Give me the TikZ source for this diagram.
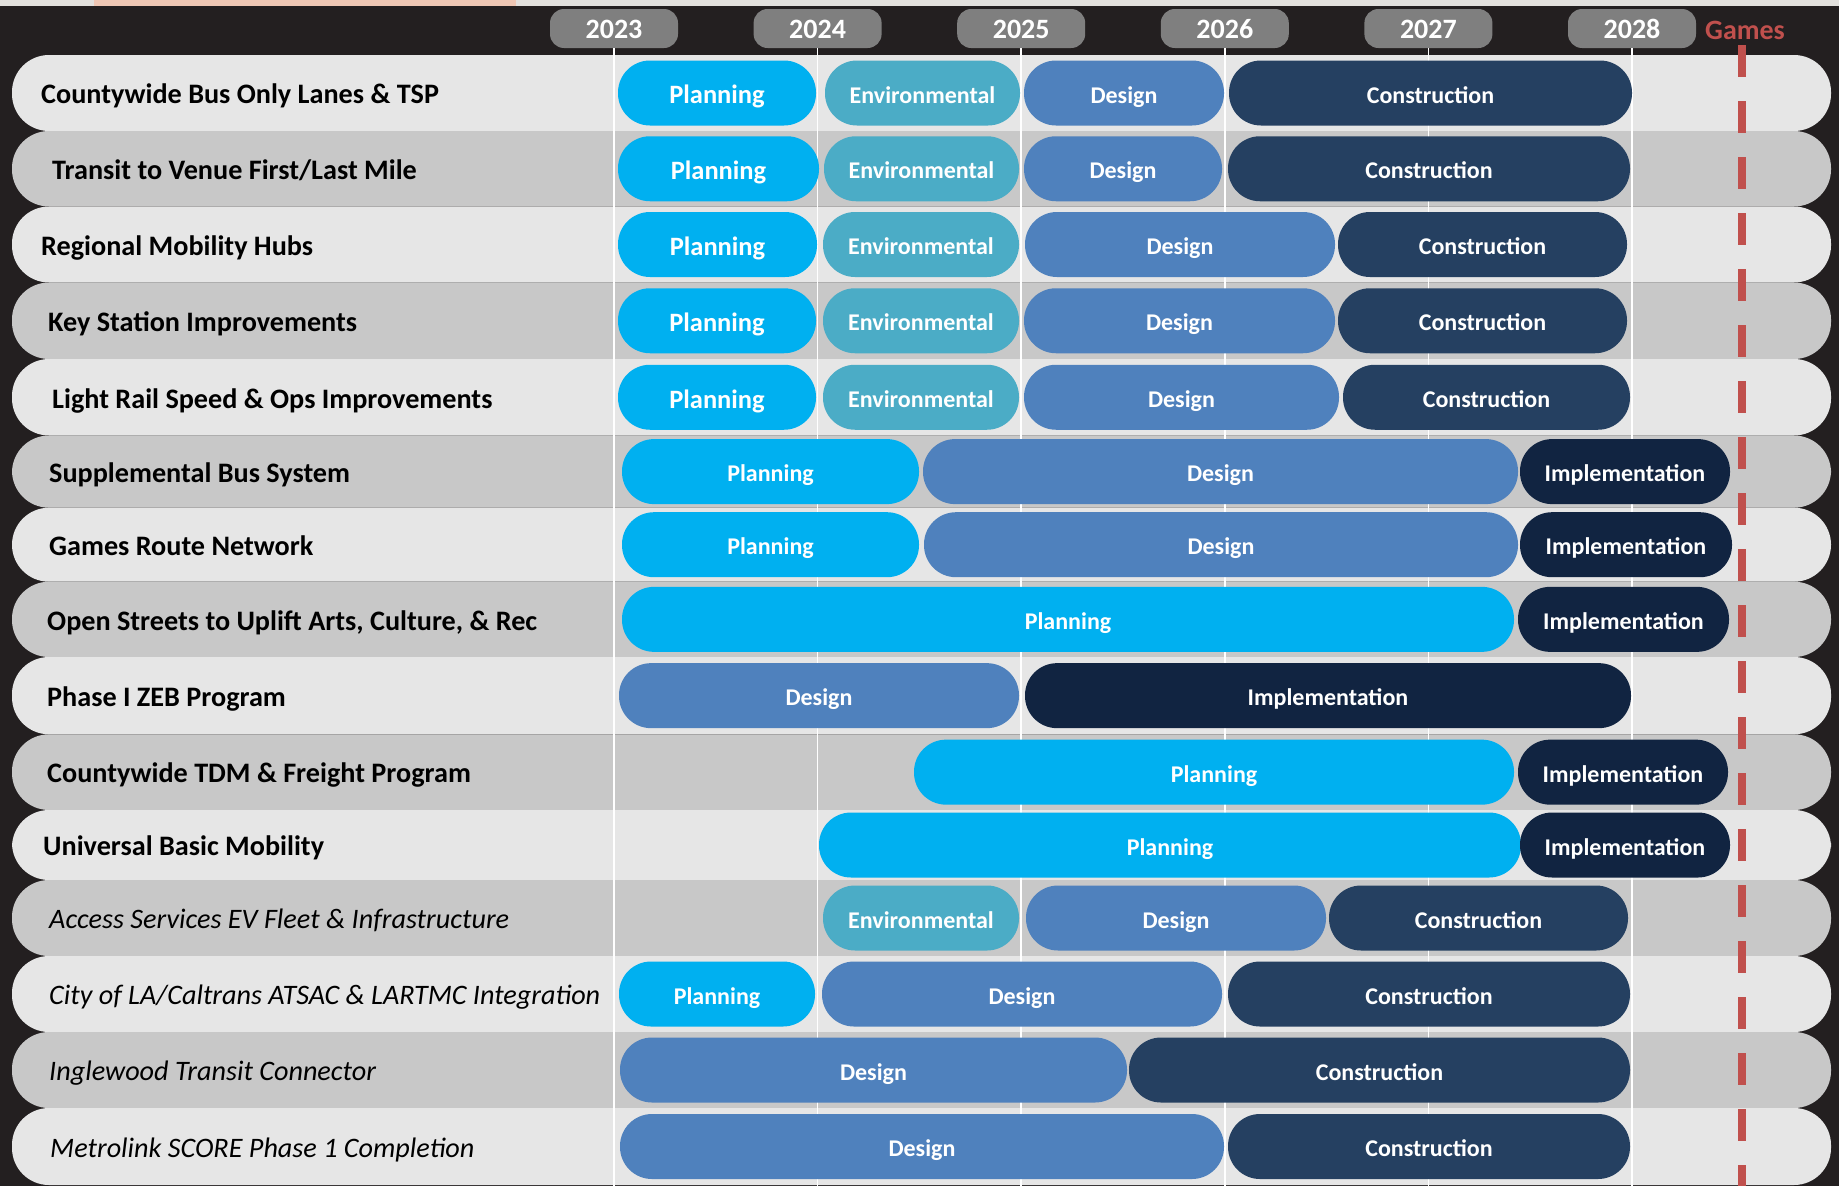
\documentclass[tikz,border=0pt]{standalone}
\usepackage{fontspec}
\setmainfont{Carlito}

\definecolor{bgdark}{HTML}{231F20}
\definecolor{stripc}{HTML}{E2E0DD}
\definecolor{strippink}{HTML}{EEC6B4}
\definecolor{rowlight}{HTML}{E6E6E6}
\definecolor{rowdark}{HTML}{C8C8C8}
\definecolor{yearpill}{HTML}{7F7F7F}
\definecolor{gamesred}{HTML}{C0504D}
\definecolor{planc}{HTML}{00B0F0}
\definecolor{envc}{HTML}{4BACC6}
\definecolor{designc}{HTML}{4F81BD}
\definecolor{constrc}{HTML}{254061}
\definecolor{implc}{HTML}{112441}

\tikzstyle{bar} = [rounded corners=32pt, minimum height=65pt, inner sep=0pt, text=white, text height=20pt, text depth=0pt, font=\fontsize{24}{28}\selectfont\bfseries]
\tikzstyle{planbar} = [bar, fill=planc]
\tikzstyle{planbig} = [bar, fill=planc, text height=21.5pt, font=\fontsize{26.5}{30}\selectfont\bfseries]
\tikzstyle{envbar} = [bar, fill=envc]
\tikzstyle{designbar} = [bar, fill=designc]
\tikzstyle{constrbar} = [bar, fill=constrc]
\tikzstyle{implbar} = [bar, fill=implc]
\tikzstyle{yearbox} = [fill=yearpill, rounded corners=14pt, minimum width=128pt, minimum height=39pt, inner sep=0pt, text=white, text height=20pt, text depth=0pt, font=\fontsize{28}{32}\selectfont\bfseries]
\tikzstyle{rowlabel} = [anchor=west, inner sep=0pt, text height=19.5pt, text depth=0pt, font=\fontsize{28.2}{32}\selectfont\bfseries]
\tikzstyle{rowlabelit} = [rowlabel, font=\fontsize{28.2}{32}\selectfont\itshape]
\tikzstyle{yearline} = [white, line width=1.5pt]
\tikzstyle{gamesline} = [gamesred, line width=8pt, dash pattern=on 32pt off 24pt]

\begin{document}
\begin{tikzpicture}[x=1pt, y=-1pt]
		%\draw[help lines] (0,0) grid (1839,1186);
		\useasboundingbox (0,0) rectangle (1839,1186);
		\fill[bgdark] (0,0) rectangle (1839,1186);
		\fill[stripc] (0,0) rectangle (1839,5.5);
		\fill[strippink] (94,0) rectangle (516,5.5);
		\coordinate (gtop) at (1742,45);
		\coordinate (gbot) at (1742,1186);
		% row bands
		\foreach \r/\ya/\yb in {1/55/131, 2/131/206.5, 3/206.5/282.5, 4/282.5/359, 5/359/435.5, 6/435.5/507.7, 7/507.7/581.7, 8/581.7/657,
			9/657/734.3, 10/734.3/810, 11/810/880, 12/880/956, 13/956/1032, 14/1032/1108, 15/1108/1185} {
			\ifodd\r\relax \def\rowc{rowlight}\else \def\rowc{rowdark}\fi
			\fill[\rowc, rounded corners=37pt] (12,\ya) rectangle (1831,\yb);
			\coordinate (row\r) at (0,{(\ya+\yb)/2});
		}
		% years
		\foreach \yr [count=\i from 0] in {2023,...,2028} {
			\node[yearbox] (y\yr) at (614+203.6*\i,28.5) {\yr};
			\draw[yearline] (y\yr.south) -- (y\yr.south |- gbot);
		}
		\node[text=gamesred, inner sep=0pt, text height=20pt, text depth=0pt, font=\fontsize{28}{32}\selectfont\bfseries] (games) at (1745,29.5) {Games};
		\draw[gamesline] (gtop) -- (gbot);
		% programs
		\foreach \r/\lx/\txt/\st in {1/41/{Countywide Bus Only Lanes \& TSP}/rowlabel, 2/52/{Transit to Venue First/Last Mile}/rowlabel,
			3/41/{Regional Mobility Hubs}/rowlabel, 4/48/{Key Station Improvements}/rowlabel, 5/52/{Light Rail Speed \& Ops Improvements}/rowlabel,
			6/49/{Supplemental Bus System}/rowlabel, 7/49/{Games Route Network}/rowlabel, 8/47/{Open Streets to Uplift Arts, Culture, \& Rec}/rowlabel,
			9/47/{Phase I ZEB Program}/rowlabel, 10/47/{Countywide TDM \& Freight Program}/rowlabel, 11/43/{Universal Basic Mobility}/rowlabel,
			12/49/{Access Services EV Fleet \& Infrastructure}/rowlabelit, 13/49/{City of LA/Caltrans ATSAC \& LARTMC Integration}/rowlabelit,
			14/49/{Inglewood Transit Connector}/rowlabelit, 15/50/{Metrolink SCORE Phase 1 Completion}/rowlabelit}
		\node[\st] (lab\r) at ([yshift=-1pt]\lx,0 |- row\r) {\txt};
		% phases
		\foreach \r/\a/\b/\s/\txt in {1/618/816/planbig/Planning, 1/825/1020/envbar/Environmental, 1/1024/1224/designbar/Design, 1/1229/1632/constrbar/Construction,
			2/618/819/planbig/Planning, 2/824/1019/envbar/Environmental, 2/1024/1222/designbar/Design, 2/1228/1630/constrbar/Construction,
			3/618/817/planbig/Planning, 3/823/1019/envbar/Environmental, 3/1025/1335/designbar/Design, 3/1338/1627/constrbar/Construction,
			4/618/816/planbig/Planning, 4/823/1019/envbar/Environmental, 4/1024/1335/designbar/Design, 4/1338/1627/constrbar/Construction,
			5/618/816/planbig/Planning, 5/823/1019/envbar/Environmental, 5/1024/1339/designbar/Design, 5/1343/1630/constrbar/Construction,
			6/622/919/planbar/Planning, 6/923/1518/designbar/Design, 6/1520/1730/implbar/Implementation,
			7/622/919/planbar/Planning, 7/924/1518/designbar/Design, 7/1520/1732/implbar/Implementation,
			8/622/1514/planbar/Planning, 8/1518/1729/implbar/Implementation,
			9/619/1019/designbar/Design, 9/1025/1631/implbar/Implementation,
			10/914/1514/planbar/Planning, 10/1518/1728/implbar/Implementation,
			11/819/1521/planbar/Planning, 11/1520/1730/implbar/Implementation,
			12/823/1019/envbar/Environmental, 12/1026/1326/designbar/Design, 12/1329/1628/constrbar/Construction,
			13/619/815/planbar/Planning, 13/822/1222/designbar/Design, 13/1228/1630/constrbar/Construction,
			14/620/1127/designbar/Design, 14/1129/1630/constrbar/Construction,
			15/620/1224/designbar/Design, 15/1228/1630/constrbar/Construction}
		\node[\s, minimum width={(\b-\a)*1pt}] (r\r\s) at ({(\a+\b)/2},0 |- row\r) {\txt};
\end{tikzpicture}
\end{document}
